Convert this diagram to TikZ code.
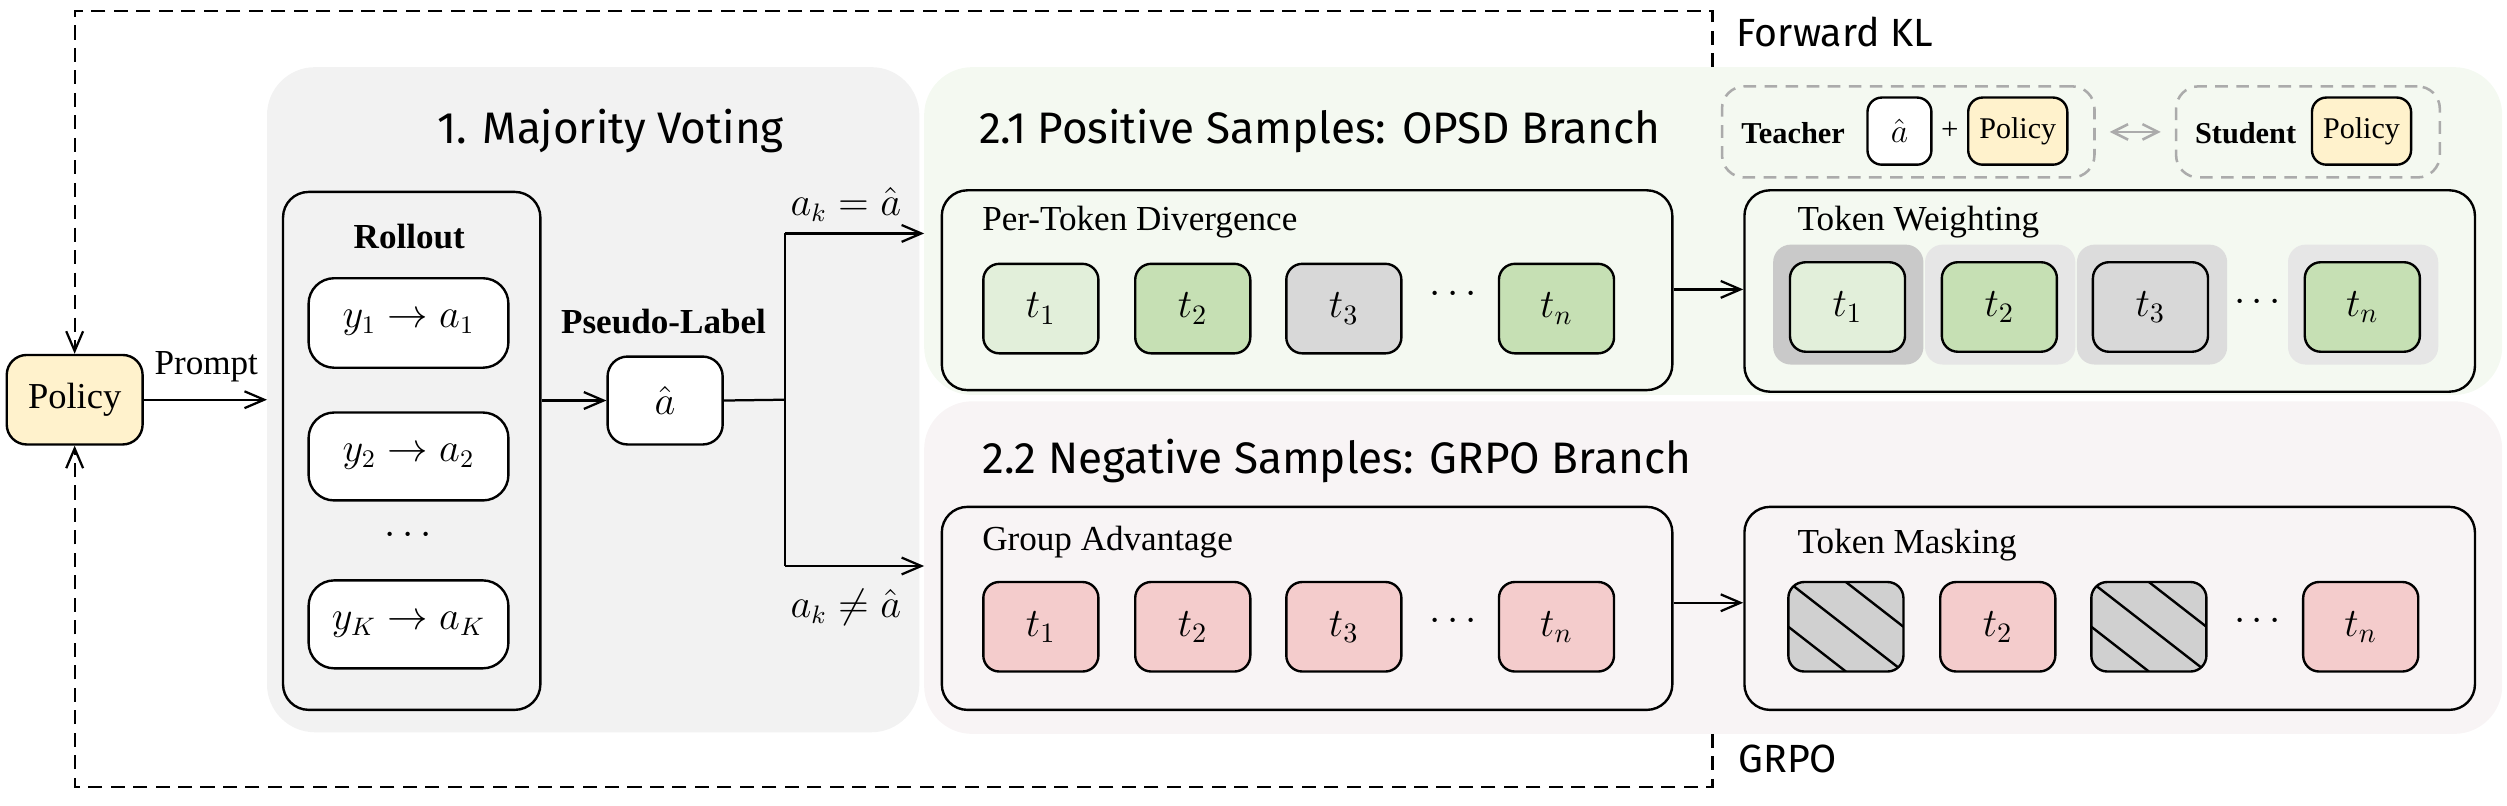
\documentclass[tikz,border=0pt]{standalone}
\usepackage{fontspec}
\setmainfont{Liberation Serif}
\newfontfamily\ttlfont{Fira Sans}
\usetikzlibrary{arrows.meta,calc}
\definecolor{policyfill}{HTML}{FFF2CC}
\definecolor{graypanel}{HTML}{F2F2F2}
\definecolor{greenpanel}{HTML}{F4F9F1}
\definecolor{pinkpanel}{HTML}{F8F4F5}
\definecolor{tokA}{HTML}{E2EFDA}
\definecolor{tokB}{HTML}{C6E0B4}
\definecolor{tokC}{HTML}{D8D8D8}
\definecolor{tokP}{HTML}{F4CCCC}
\definecolor{tokH}{HTML}{D0D0D0}
\definecolor{bgA}{HTML}{C9C9C9}
\definecolor{bgB}{HTML}{E6E6E6}
\definecolor{bgC}{HTML}{DCDCDC}
\definecolor{dashgray}{HTML}{ABABAB}
\tikzset{
  box/.style={draw, line width=0.85pt, rounded corners=0.32cm, inner sep=0pt},
  wbox/.style={box, fill=white},
  tok/.style={draw, line width=0.85pt, rounded corners=0.2cm, minimum width=1.44cm, minimum height=1.12cm, inner sep=0pt, font=\fontsize{14}{16}\selectfont},
  tokbg/.style={draw=none, rounded corners=0.22cm, minimum width=1.88cm, minimum height=1.5cm, inner sep=0pt},
  hatch/.style={tok, fill=tokH, path picture={
      \draw[line width=0.85pt] (path picture bounding box.north west) -- (path picture bounding box.south east);
      \draw[line width=0.85pt] ($(path picture bounding box.north west)!0.5!(path picture bounding box.north east)$) -- ($(path picture bounding box.north east)!0.5!(path picture bounding box.south east)$);
      \draw[line width=0.85pt] ($(path picture bounding box.north west)!0.5!(path picture bounding box.south west)$) -- ($(path picture bounding box.south west)!0.5!(path picture bounding box.south east)$);
  }},
  lbl/.style={font=\fontsize{12.5}{14}\selectfont, inner sep=0pt},
  blbl/.style={font=\bfseries\fontsize{12.5}{14}\selectfont, inner sep=0pt},
  slbl/.style={font=\bfseries\fontsize{10.8}{12}\selectfont, inner sep=0pt},
  mth/.style={font=\fontsize{13.5}{15}\selectfont, inner sep=0pt},
  ttl/.style={font=\ttlfont\fontsize{15.7}{18}\selectfont, inner sep=0pt},
  side/.style={font=\ttlfont\fontsize{14}{16}\selectfont, inner sep=0pt},
  arr/.style={line width=0.8pt, -{Straight Barb[length=7pt,width=6pt]}},
  dsh/.style={line width=0.8pt, dash pattern=on 5pt off 3pt},
  gdash/.style={draw=dashgray, line width=0.9pt, dash pattern=on 4.5pt off 3pt, rounded corners=0.28cm, inner sep=0pt},
}
\begin{document}
\begin{tikzpicture}[x=0.02cm,y=-0.02cm]
\useasboundingbox (0,0) rectangle (1568,504);

% panels
\fill[graypanel, rounded corners=0.6cm] (167,42) rectangle (575,458);
\fill[greenpanel, rounded corners=0.6cm] (578,42) rectangle (1565,247);
\fill[pinkpanel, rounded corners=0.6cm] (578,251) rectangle (1565,459);
\coordinate (grayW) at (167,250);
\coordinate (kltop) at (1071,42);
\coordinate (grpobot) at (1071,459);
\coordinate (posin) at (578,146);
\coordinate (negin) at (578,354);

% titles
\node[ttl, anchor=base] (t1) at (382,90) {1. Majority Voting};
\node[ttl, anchor=base west] (t21) at (612,90) {2.1 Positive Samples: OPSD Branch};
\node[ttl, anchor=base west] (t22) at (614,296) {2.2 Negative Samples: GRPO Branch};
\node[side, anchor=base west] (fkl) at (1086,29) {Forward KL};
\node[side, anchor=base west] (grpo) at (1087,483) {GRPO};

% policy
\node[box, fill=policyfill, rounded corners=0.25cm, minimum width=1.70cm, minimum height=1.12cm, font=\fontsize{13}{15}\selectfont] (policy) at (46.7,250) {Policy};
\node[lbl, anchor=base] (prompt) at (129,234) {Prompt};

% rollout
\node[box, minimum width=3.22cm, minimum height=6.48cm] (rollout) at (257.5,282) {};
\node[blbl] (rolltitle) at (256,148) {Rollout};
\node[wbox, minimum width=2.5cm, minimum height=1.12cm, mth] (y1) at (255.5,202) {$y_1 \rightarrow a_1$};
\node[wbox, minimum width=2.5cm, minimum height=1.10cm, mth] (y2) at (255.5,285.5) {$y_2 \rightarrow a_2$};
\node[mth] (ydots) at (255.5,335) {$\cdots$};
\node[wbox, minimum width=2.5cm, minimum height=1.10cm, mth] (yK) at (255.5,390.5) {$y_K \rightarrow a_K$};

% pseudo label
\node[blbl] (pltitle) at (415,201) {Pseudo-Label};
\node[wbox, rounded corners=0.25cm, minimum width=1.44cm, minimum height=1.10cm, mth] (ahat) at (416,250.5) {$\hat{a}$};
\coordinate (split) at (491,250);
\coordinate (splitT) at (491,146);
\coordinate (splitB) at (491,354);
\node[mth] (eqlbl) at (529,128) {$a_k = \hat{a}$};
\node[mth] (neqlbl) at (529,380) {$a_k \neq \hat{a}$};

% OPSD branch
\node[box, minimum width=9.14cm, minimum height=2.5cm] (ptd) at (817.5,181.5) {};
\node[lbl, anchor=base west] (ptdlbl) at (614,144) {Per-Token Divergence};
\node[tok, fill=tokA] (p1) at (651,193) {$t_1$};
\node[tok, fill=tokB] (p2) at (746,193) {$t_2$};
\node[tok, fill=tokC] (p3) at (840.5,193) {$t_3$};
\node[mth] (pd) at (909,184) {$\cdots$};
\node[tok, fill=tokB] (pn) at (973.5,193) {$t_n$};

\node[box, minimum width=9.14cm, minimum height=2.52cm] (tw) at (1319.5,182) {};
\node[lbl, anchor=base west] (twlbl) at (1124,144) {Token Weighting};
\node[tokbg, fill=bgA] (wb1) at (1156,190.5) {};
\node[tokbg, fill=bgB] (wb2) at (1251,190.5) {};
\node[tokbg, fill=bgC] (wb3) at (1346,190.5) {};
\node[tokbg, fill=bgB] (wbn) at (1478,190.5) {};
\node[tok, fill=tokA] (w1) at (1155.5,192) {$t_1$};
\node[tok, fill=tokB] (w2) at (1250.5,192) {$t_2$};
\node[tok, fill=tokC] (w3) at (1345,192) {$t_3$};
\node[mth] (wd) at (1412,189) {$\cdots$};
\node[tok, fill=tokB] (wn) at (1477.5,192) {$t_n$};

% teacher / student
\node[gdash, minimum width=4.66cm, minimum height=1.14cm] (teacher) at (1193.5,82.5) {};
\node[slbl] (teachlbl) at (1121.5,83) {Teacher};
\node[wbox, rounded corners=0.18cm, minimum width=0.8cm, minimum height=0.84cm, font=\fontsize{12}{14}\selectfont] (tahat) at (1188,82) {$\hat{a}$};
\node[lbl, font=\fontsize{11}{12}\selectfont] (plus) at (1219.5,82) {+};
\node[box, fill=policyfill, rounded corners=0.18cm, minimum width=1.24cm, minimum height=0.84cm, font=\fontsize{10.7}{12}\selectfont] (tpolicy) at (1262,82) {Policy};
\node[gdash, minimum width=3.30cm, minimum height=1.14cm] (student) at (1443.5,82.5) {};
\node[slbl] (studlbl) at (1404.5,83) {Student};
\node[box, fill=policyfill, rounded corners=0.18cm, minimum width=1.24cm, minimum height=0.84cm, font=\fontsize{10.7}{12}\selectfont] (spolicy) at (1477,82) {Policy};
\draw[draw=dashgray, line width=0.9pt, {Straight Barb[length=5.5pt,width=5.5pt]}-{Straight Barb[length=5.5pt,width=5.5pt]}, shorten <=5pt, shorten >=5pt] (teacher.east) -- (student.west);

% GRPO branch
\node[box, minimum width=9.14cm, minimum height=2.54cm] (ga) at (817.5,380.5) {};
\node[lbl, anchor=base west] (galbl) at (614,344) {Group Advantage};
\node[tok, fill=tokP] (g1) at (651,392) {$t_1$};
\node[tok, fill=tokP] (g2) at (746,392) {$t_2$};
\node[tok, fill=tokP] (g3) at (840.5,392) {$t_3$};
\node[mth] (gdots) at (909,389) {$\cdots$};
\node[tok, fill=tokP] (gn) at (973.5,392) {$t_n$};

\node[box, minimum width=9.14cm, minimum height=2.54cm] (tm) at (1319.5,380.5) {};
\node[lbl, anchor=base west] (tmlbl) at (1124,346) {Token Masking};
\node[hatch] (m1) at (1154.5,392) {};
\node[tok, fill=tokP] (m2) at (1249.5,392) {$t_2$};
\node[hatch] (m3) at (1344,392) {};
\node[mth] (md) at (1412,389) {$\cdots$};
\node[tok, fill=tokP] (mn) at (1476.5,392) {$t_n$};

% connectors
\draw[arr] (policy.east) -- (grayW);
\draw[arr] (rollout.east |- ahat.west) -- (ahat.west);
\draw[line width=0.8pt] (ahat.east) -- (split);
\draw[line width=0.8pt] (splitT) -- (splitB);
\draw[arr] (splitT) -- (posin);
\draw[arr] (splitB) -- (negin);
\draw[arr] (ptd.east |- 0,181) -- (tw.west |- 0,181);
\draw[arr] (ga.east |- 0,377) -- (tm.west |- 0,377);

% feedback loops
\draw[dsh, -{Straight Barb[length=7pt,width=6pt]}] (kltop) -- (1071,7) -- (policy.north |- 0,7) -- (policy.north);
\draw[dsh, -{Straight Barb[length=7pt,width=6pt]}] (grpobot) -- (1071,492) -- (policy.south |- 0,492) -- (policy.south);
\end{tikzpicture}
\end{document}
